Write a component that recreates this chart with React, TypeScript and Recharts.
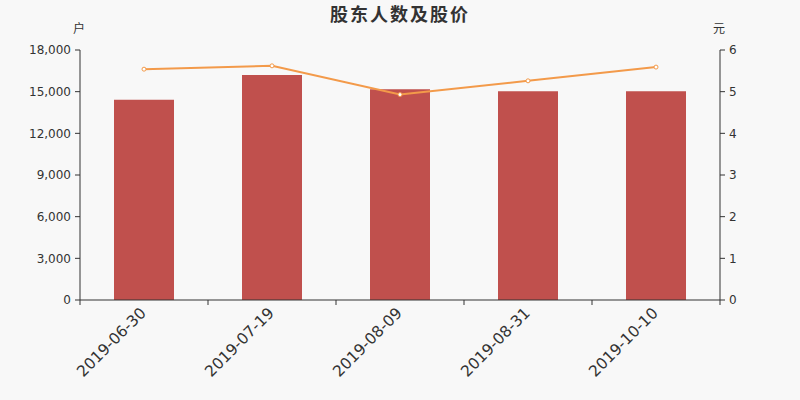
import React from 'react';
import { ComposedChart, Bar, Line, XAxis, YAxis } from 'recharts';

const categories = ['2019-06-30', '2019-07-19', '2019-08-09', '2019-08-31', '2019-10-10'];
const holders = [14420, 16200, 15170, 15030, 15030];
const prices = [5.54, 5.62, 4.93, 5.26, 5.59];
const leftTicks = [0, 3000, 6000, 9000, 12000, 15000, 18000];
const rightTicks = [0, 1, 2, 3, 4, 5, 6];

const data = categories.map((c, i) => ({ date: c, holders: holders[i], price: prices[i] }));

const AXIS = '#333';
const FONT = '"DejaVu Sans", sans-serif';

const XTick = (props: any) => {
  const { x, y, payload, index } = props;
  const off = payload.offset || 0;
  const axisY = y - 8;
  const ax = x - 5;
  const ay = y - 2;
  return (
    <g>
      <line x1={x - off} x2={x - off} y1={axisY} y2={axisY + 5} stroke={AXIS} />
      {index === categories.length - 1 && (
        <line x1={x + off} x2={x + off} y1={axisY} y2={axisY + 5} stroke={AXIS} />
      )}
      <text
        x={ax}
        y={ay}
        textAnchor="end"
        fontSize={15.5}
        fill={AXIS}
        fontFamily={FONT}
        transform={`rotate(-45, ${ax}, ${ay})`}
        dominantBaseline="hanging"
      >
        {payload.value}
      </text>
    </g>
  );
};

export default function App() {
  return (
    <div style={{ position: 'absolute', left: 0, top: 0, width: 800, height: 400, background: '#f8f8f8' }}>
      <div
        style={{
          position: 'absolute',
          left: 0,
          width: 800,
          top: 2,
          textAlign: 'center',
          fontFamily: '"Noto Sans CJK SC", sans-serif',
          fontWeight: 'bold',
          fontSize: 18,
          letterSpacing: 2,
          color: '#333',
          lineHeight: '22px',
        }}
      >
        股东人数及股价
      </div>
      <div style={{ position: 'absolute', left: 73, top: 20, fontFamily: '"Noto Sans CJK SC", sans-serif', fontSize: 12, color: '#333', lineHeight: '16px' }}>
        户
      </div>
      <div style={{ position: 'absolute', left: 713, top: 20, fontFamily: '"Noto Sans CJK SC", sans-serif', fontSize: 12, color: '#333', lineHeight: '16px' }}>
        元
      </div>
      <ComposedChart
        width={800}
        height={400}
        data={data}
        margin={{ top: 50, right: 20, bottom: 0, left: 20 }}
        barCategoryGap={0}
      >
        <XAxis
          dataKey="date"
          height={100}
          stroke={AXIS}
          tickLine={false}
          tickSize={5}
          tickMargin={3}
          tick={<XTick />}
          interval={0}
        />
        <YAxis
          yAxisId="left"
          width={60}
          domain={[0, 18000]}
          ticks={leftTicks}
          stroke={AXIS}
          tickSize={5}
          tickMargin={4}
          tick={{ fill: AXIS, fontSize: 12, fontFamily: FONT }}
          tickFormatter={(v: number) => v.toLocaleString('en-US')}
        />
        <YAxis
          yAxisId="right"
          orientation="right"
          width={60}
          domain={[0, 6]}
          ticks={rightTicks}
          stroke={AXIS}
          tickSize={5}
          tickMargin={4}
          tick={{ fill: AXIS, fontSize: 12, fontFamily: FONT }}
        />
        <Bar yAxisId="left" dataKey="holders" fill="#c0504d" barSize={60} isAnimationActive={false} />
        <Line
          yAxisId="right"
          dataKey="price"
          stroke="#f39a4a"
          strokeWidth={2}
          dot={{ r: 2, fill: '#fff', stroke: '#f39a4a', strokeWidth: 1 }}
          activeDot={false}
          isAnimationActive={false}
        />
      </ComposedChart>
    </div>
  );
}
